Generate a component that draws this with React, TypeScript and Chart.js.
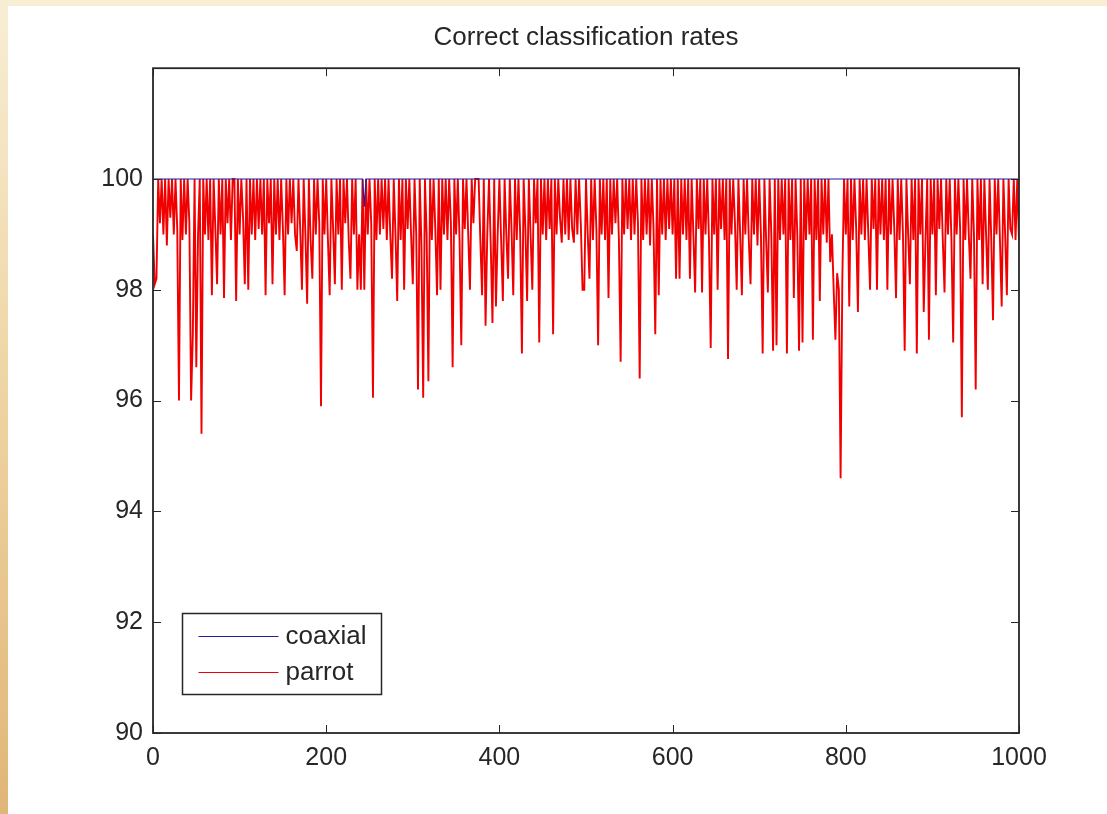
import React, { useEffect, useRef } from "react";
import { Chart, registerables } from "chart.js";

Chart.register(...registerables);

const TITLE = "Correct classification rates";
const SERIES_LABELS = ["coaxial", "parrot"];
const X_TICKS = [0, 200, 400, 600, 800, 1000];
const Y_TICKS = [90, 92, 94, 96, 98, 100];
const X_MIN = 0;
const X_MAX = 1000;
const Y_MIN = 90;
const Y_MAX = 102;

// coaxial: flat at 100 except one small dip
const COAXIAL_X = [0, 242, 244, 246, 1000];
const COAXIAL_Y = [100, 100, 99.5, 100, 100];

// parrot: sampled every 2 iterations (x = 0, 2, 4, ... 1000)
const PARROT_X_STEP = 2;
const PARROT_Y = [
  // 0..38
  99.0, 98.1, 98.2, 100, 99.2, 100, 99.0, 100, 98.8, 100, 99.3, 100, 99.0, 100, 99.1, 96.0, 100, 98.9, 100, 99.0,
  // 40..78
  100, 99.2, 96.0, 97.2, 100, 96.6, 99.0, 100, 95.4, 100, 99.0, 100, 98.9, 100, 97.9, 100, 99.1, 98.1, 100, 99.0,
  // 80..118
  100, 97.85, 100, 99.2, 100, 98.9, 100, 100, 97.8, 100, 99.0, 100, 99.3, 98.1, 100, 98.0, 100, 99.0, 100, 98.9,
  // 120..158
  100, 99.1, 100, 99.0, 100, 97.9, 100, 99.2, 100, 98.1, 100, 99.0, 100, 98.9, 100, 99.1, 97.9, 100, 99.0, 100,
  // 160..198
  99.2, 100, 99.0, 98.7, 100, 99.1, 98.0, 100, 99.0, 97.75, 100, 98.9, 98.2, 100, 99.0, 100, 99.2, 95.9, 100, 99.0,
  // 200..238
  100, 98.9, 97.9, 100, 99.1, 98.1, 100, 99.0, 100, 98.0, 100, 99.2, 100, 98.9, 98.2, 100, 99.0, 100, 98.0, 99.0,
  // 240..278
  98.0, 100, 98.0, 100, 99.0, 100, 99.2, 96.05, 100, 98.9, 100, 99.0, 100, 99.1, 100, 98.9, 100, 99.0, 98.2, 100,
  // 280..318
  99.0, 97.8, 100, 98.9, 100, 98.0, 100, 99.1, 100, 99.0, 98.1, 100, 99.0, 96.2, 100, 98.8, 96.05, 100, 99.0, 96.35,
  // 320..358
  100, 98.9, 100, 99.1, 97.9, 100, 98.0, 100, 99.0, 100, 98.9, 100, 99.2, 96.6, 100, 99.0, 100, 98.9, 97.0, 100,
  // 360..398
  99.1, 100, 99.0, 98.0, 100, 99.2, 100, 100, 100, 98.9, 97.9, 100, 97.35, 99.0, 100, 98.8, 97.4, 100, 97.7, 99.0,
  // 400..438
  100, 98.9, 97.8, 100, 99.0, 98.2, 100, 99.1, 97.9, 100, 98.9, 100, 99.0, 96.85, 100, 99.1, 97.8, 100, 99.0, 98.0,
  // 440..478
  100, 99.2, 100, 97.05, 100, 99.0, 100, 98.9, 100, 99.1, 100, 97.2, 100, 99.0, 100, 99.3, 98.85, 100, 99.0, 100,
  // 480..518
  98.9, 100, 99.1, 98.85, 100, 99.0, 100, 99.2, 98.0, 98.0, 100, 99.0, 98.2, 100, 98.9, 100, 99.1, 97.0, 100, 99.0,
  // 520..558
  100, 98.9, 100, 97.85, 100, 99.0, 100, 99.2, 100, 98.9, 96.7, 100, 99.0, 100, 99.1, 100, 98.9, 100, 99.0, 100,
  // 560..598
  99.2, 96.4, 100, 98.9, 100, 99.0, 100, 98.8, 100, 99.1, 97.2, 100, 97.9, 100, 99.0, 100, 98.9, 100, 99.1, 100,
  // 600..638
  99.0, 100, 98.2, 100, 98.2, 100, 99.0, 100, 98.9, 100, 98.2, 100, 99.0, 97.95, 100, 99.1, 100, 97.95, 100, 99.0,
  // 640..678
  100, 98.9, 96.95, 100, 99.0, 100, 98.0, 100, 99.1, 100, 98.9, 100, 96.75, 100, 99.0, 100, 99.2, 98.0, 100, 99.0,
  // 680..718
  97.9, 100, 99.0, 100, 98.9, 98.1, 100, 99.0, 100, 98.8, 100, 99.0, 96.85, 100, 98.9, 97.95, 100, 99.0, 96.9, 100,
  // 720..758
  97.0, 100, 98.9, 100, 99.0, 100, 96.85, 100, 98.9, 100, 97.85, 100, 99.0, 96.9, 100, 97.05, 100, 98.9, 100, 99.0,
  // 760..798
  100, 97.1, 100, 98.9, 100, 97.8, 100, 99.0, 100, 98.85, 100, 98.5, 99.0, 98.0, 97.1, 98.3, 98.0, 94.6, 98.2, 100,
  // 800..838
  99.0, 100, 97.7, 100, 98.9, 100, 99.1, 97.6, 100, 99.0, 100, 98.9, 100, 99.0, 98.0, 100, 99.1, 100, 98.0, 100,
  // 840..878
  99.0, 100, 98.9, 100, 98.0, 100, 99.0, 100, 99.1, 97.85, 100, 98.9, 100, 99.0, 96.9, 100, 99.0, 98.1, 100, 98.9,
  // 880..918
  100, 96.85, 100, 99.0, 100, 97.6, 98.9, 100, 97.1, 100, 99.0, 100, 97.9, 100, 99.1, 100, 98.9, 97.95, 100, 99.0,
  // 920..958
  100, 98.9, 97.05, 100, 99.0, 100, 99.1, 95.7, 100, 98.9, 100, 99.0, 98.2, 100, 99.0, 96.2, 100, 98.9, 100, 98.1,
  // 960..998
  100, 99.0, 98.0, 100, 98.9, 97.45, 100, 99.0, 100, 98.9, 97.7, 100, 99.0, 97.9, 100, 99.1, 99.0, 100, 98.9, 100,
  // 1000
  98.9,
];

const FONT = "'Liberation Sans', Arial, Helvetica, sans-serif";
const INK = "#262626";

const framePlugin = {
  id: "matlabFrame",
  afterDatasetsDraw(chart: any) {
    const { ctx, chartArea: ca, scales } = chart;
    const xs = scales.x;
    const ys = scales.y;
    ctx.save();
    ctx.strokeStyle = INK;
    ctx.lineWidth = 1;
    const tl = 8;
    ctx.beginPath();
    X_TICKS.forEach((v) => {
      const px = Math.round(xs.getPixelForValue(v)) + 0.5;
      ctx.moveTo(px, ca.bottom);
      ctx.lineTo(px, ca.bottom - tl);
      ctx.moveTo(px, ca.top);
      ctx.lineTo(px, ca.top + tl);
    });
    Y_TICKS.forEach((v) => {
      const py = Math.round(ys.getPixelForValue(v)) + 0.5;
      ctx.moveTo(ca.left, py);
      ctx.lineTo(ca.left + tl, py);
      ctx.moveTo(ca.right, py);
      ctx.lineTo(ca.right - tl, py);
    });
    ctx.stroke();
    ctx.lineWidth = 1.8;
    ctx.strokeRect(ca.left, ca.top, ca.right - ca.left, ca.bottom - ca.top);
    ctx.restore();
  },
  afterDraw(chart: any) {
    const { ctx, chartArea: ca } = chart;
    const datasets = chart.data.datasets;
    const bx = ca.left + 29.5;
    const by = ca.bottom - 119.5;
    const bw = 199;
    const bh = 81;
    ctx.save();
    ctx.fillStyle = "#ffffff";
    ctx.fillRect(bx, by, bw, bh);
    ctx.strokeStyle = INK;
    ctx.lineWidth = 1.5;
    ctx.strokeRect(bx, by, bw, bh);
    const rowY = [by + 23, by + 59];
    datasets.forEach((ds: any, i: number) => {
      ctx.strokeStyle = ds.borderColor;
      ctx.lineWidth = 1.2;
      ctx.beginPath();
      ctx.moveTo(bx + 16, rowY[i]);
      ctx.lineTo(bx + 96, rowY[i]);
      ctx.stroke();
      ctx.fillStyle = INK;
      ctx.font = `26px ${FONT}`;
      ctx.textBaseline = "middle";
      ctx.textAlign = "left";
      ctx.fillText(ds.label, bx + 103, rowY[i]);
    });
    ctx.restore();
  },
};

export default function App() {
  const canvasRef = useRef<HTMLCanvasElement | null>(null);

  useEffect(() => {
    const canvas = canvasRef.current;
    if (!canvas) return;
    const coaxial = COAXIAL_X.map((x, i) => ({ x, y: COAXIAL_Y[i] }));
    const parrot = PARROT_Y.map((y, i) => ({ x: i * PARROT_X_STEP, y }));
    const chart = new Chart(canvas, {
      type: "line",
      data: {
        datasets: [
          {
            label: SERIES_LABELS[0],
            data: coaxial,
            borderColor: "#1f1f9a",
            borderWidth: 1.2,
            pointRadius: 0,
            tension: 0,
          },
          {
            label: SERIES_LABELS[1],
            data: parrot,
            borderColor: "#f00000",
            borderWidth: 1.9,
            pointRadius: 0,
            tension: 0,
          },
        ],
      },
      options: {
        animation: false,
        responsive: false,
        maintainAspectRatio: false,
        events: [],
        layout: { padding: { left: 0, right: 88, top: 0, bottom: 0 } },
        plugins: {
          legend: { display: false },
          tooltip: { enabled: false },
          title: {
            display: true,
            fullSize: false,
            text: TITLE,
            color: INK,
            font: { family: FONT, size: 26, weight: "normal" },
            padding: { top: 22, bottom: 15 },
          },
        },
        scales: {
          x: {
            type: "linear",
            min: X_MIN,
            max: X_MAX,
            afterBuildTicks: (s: any) => {
              s.ticks = X_TICKS.map((v) => ({ value: v }));
            },
            afterFit: (s: any) => {
              s.height = 81;
            },
            grid: { display: false, drawTicks: false },
            border: { display: false },
            ticks: {
              color: INK,
              padding: 10,
              maxRotation: 0,
              autoSkip: false,
              font: { family: FONT, size: 25 },
              callback: (v: any) => String(v),
            },
          },
          y: {
            type: "linear",
            min: Y_MIN,
            max: Y_MAX,
            afterBuildTicks: (s: any) => {
              s.ticks = Y_TICKS.map((v) => ({ value: v }));
            },
            afterFit: (s: any) => {
              s.width = 153;
            },
            grid: { display: false, drawTicks: false },
            border: { display: false },
            ticks: {
              color: INK,
              padding: 10,
              autoSkip: false,
              font: { family: FONT, size: 25 },
              callback: (v: any) => String(v),
            },
          },
        },
      },
      plugins: [framePlugin],
    });
    return () => chart.destroy();
  }, []);

  return (
    <div
      style={{
        position: "fixed",
        left: 0,
        top: 0,
        width: 1107,
        height: 814,
        background: "#ffffff",
        overflow: "hidden",
      }}
    >
      <div
        style={{
          position: "absolute",
          left: 0,
          top: 0,
          width: 1107,
          height: 6,
          background: "#f7eed4",
        }}
      />
      <div
        style={{
          position: "absolute",
          left: 0,
          top: 0,
          width: 8,
          height: 814,
          background: "linear-gradient(to bottom, #f7eed4 0%, #efd6a6 45%, #e0b677 100%)",
        }}
      />
      <canvas
        ref={canvasRef}
        width={1107}
        height={814}
        style={{ position: "absolute", left: 0, top: 0, width: 1107, height: 814 }}
      />
    </div>
  );
}
